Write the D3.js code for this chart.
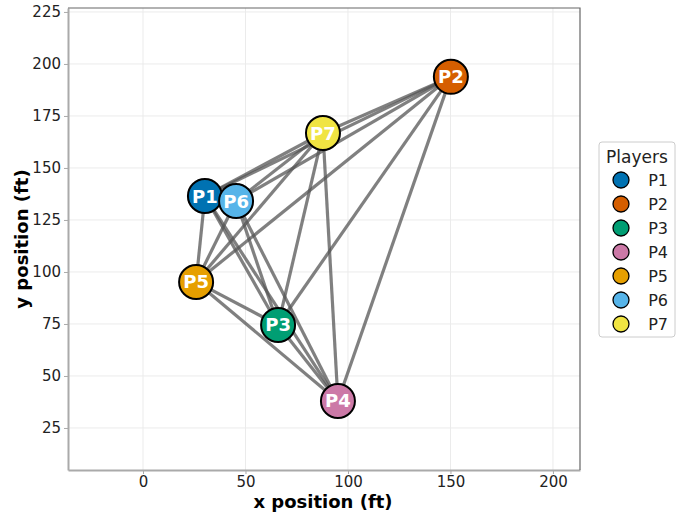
<!DOCTYPE html>
<html>
<head>
<meta charset="utf-8">
<script src="https://cdn.jsdelivr.net/npm/d3@7"></script>
<style>
  body { margin: 0; background: #fff; }
  text { font-family: "DejaVu Sans", sans-serif; }
</style>
</head>
<body>
<svg id="chart" width="691" height="513"></svg>
<script>
// players and positions (ft)
var players = ["P1", "P2", "P3", "P4", "P5", "P6", "P7"];
var xPos = [30.2, 150.2, 65.9, 95.1, 25.9, 45.4, 87.8];
var yPos = [136.5, 193.8, 74.5, 38.0, 95.2, 134.1, 166.8];
var colors = ["#0072B2", "#D55E00", "#009E73", "#CC79A7", "#E69F00", "#56B4E9", "#F0E442"];
var xTicks = [0, 50, 100, 150, 200];
var yTicks = [25, 50, 75, 100, 125, 150, 175, 200, 225];

var svg = d3.select("#chart");
var pLeft = 68, pRight = 580, pTop = 8, pBottom = 470;

var x = d3.scaleLinear().domain([-36.6, 213.2]).range([pLeft, pRight]);
var y = d3.scaleLinear().domain([4.8, 226.9]).range([pBottom, pTop]);

// grid
var grid = svg.append("g");
grid.selectAll(".gx").data(xTicks).enter().append("line")
	.attr("x1", function(d) { return x(d); }).attr("x2", function(d) { return x(d); })
	.attr("y1", pTop).attr("y2", pBottom)
	.attr("stroke", "#ebebeb").attr("stroke-width", 1);
grid.selectAll(".gy").data(yTicks).enter().append("line")
	.attr("y1", function(d) { return y(d); }).attr("y2", function(d) { return y(d); })
	.attr("x1", pLeft).attr("x2", pRight)
	.attr("stroke", "#ebebeb").attr("stroke-width", 1);

// axes
var xAxis = svg.append("g").attr("transform", "translate(0," + pBottom + ")")
	.call(d3.axisBottom(x).tickValues(xTicks).tickSize(4).tickSizeOuter(0).tickPadding(2));
var yAxis = svg.append("g").attr("transform", "translate(" + pLeft + ",0)")
	.call(d3.axisLeft(y).tickValues(yTicks).tickSize(4).tickSizeOuter(0).tickPadding(3));
[xAxis, yAxis].forEach(function(a) {
	a.attr("font-size", null).attr("font-family", null);
	a.select(".domain").attr("stroke", "#aaa").attr("stroke-width", 2);
	a.selectAll(".tick line").attr("stroke", "#aaa");
	a.selectAll(".tick text").attr("fill", "#222").style("font-size", "15px");
});

// frame (top/right)
svg.append("path")
	.attr("d", "M" + pLeft + "," + pTop + "H" + pRight + "V" + pBottom)
	.attr("fill", "none").attr("stroke", "#666").attr("stroke-width", 1.2);

// edges: every pair
var edges = [];
for (var i = 0; i < players.length; i++) {
	for (var j = i + 1; j < players.length; j++) {
		edges.push([i, j]);
	}
}
svg.append("g").selectAll("line").data(edges).enter().append("line")
	.attr("x1", function(d) { return x(xPos[d[0]]); })
	.attr("y1", function(d) { return y(yPos[d[0]]); })
	.attr("x2", function(d) { return x(xPos[d[1]]); })
	.attr("y2", function(d) { return y(yPos[d[1]]); })
	.attr("stroke", "#555").attr("stroke-opacity", 0.75).attr("stroke-width", 3.2);

// nodes
var nodes = svg.append("g").selectAll("g").data(players).enter().append("g")
	.attr("transform", function(d, i) { return "translate(" + x(xPos[i]) + "," + y(yPos[i]) + ")"; });
nodes.append("circle").attr("r", 17)
	.attr("fill", function(d, i) { return colors[i]; })
	.attr("stroke", "#000").attr("stroke-width", 2);
nodes.append("text").text(function(d) { return d; })
	.attr("text-anchor", "middle").attr("dy", "0.36em")
	.attr("fill", "#fff").style("font-size", "18px").style("font-weight", "bold");

// axis titles
svg.append("text").attr("x", (pLeft + pRight) / 2 - 1).attr("y", 508)
	.attr("text-anchor", "middle").style("font-size", "18px").style("font-weight", "bold")
	.text("x position (ft)");
svg.append("text").attr("transform", "translate(28," + ((pTop + pBottom) / 2) + ")rotate(-90)")
	.attr("text-anchor", "middle").style("font-size", "18px").style("font-weight", "bold")
	.text("y position (ft)");

// legend
var lg = svg.append("g").attr("transform", "translate(599,142)");
lg.append("rect").attr("width", 76).attr("height", 195).attr("rx", 3)
	.attr("fill", "#fff").attr("stroke", "#ccc");
lg.append("text").attr("x", 38).attr("y", 21).attr("text-anchor", "middle")
	.style("font-size", "17px").attr("fill", "#222").text("Players");
var items = lg.selectAll(".item").data(players).enter().append("g")
	.attr("transform", function(d, i) { return "translate(0," + (38 + i * 24) + ")"; });
items.append("circle").attr("cx", 22).attr("r", 8)
	.attr("fill", function(d, i) { return colors[i]; })
	.attr("stroke", "#000").attr("stroke-width", 1.3);
items.append("text").attr("x", 69).attr("dy", "0.36em").attr("text-anchor", "end")
	.style("font-size", "16px").attr("fill", "#222").text(function(d) { return d; });
</script>
</body>
</html>
